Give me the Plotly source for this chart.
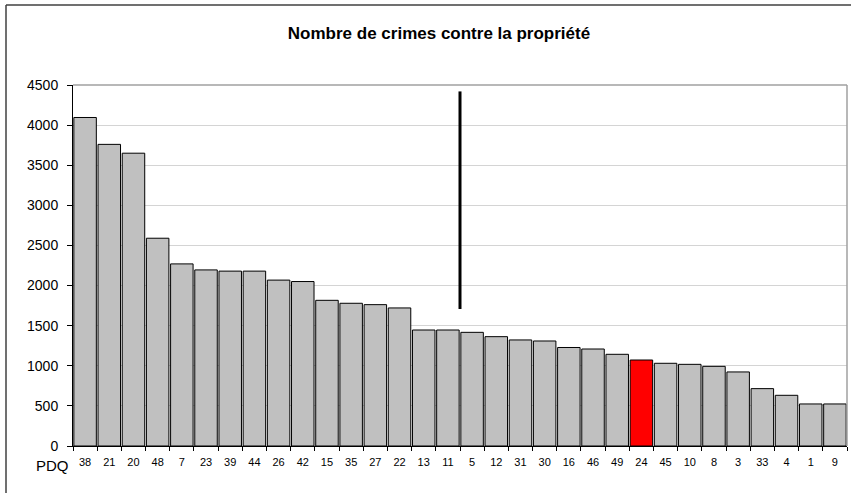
import plotly.graph_objects as go

# Data
pdq = ["38", "21", "20", "48", "7", "23", "39", "44", "26", "42", "15", "35", "27", "22", "13", "11",
       "5", "12", "31", "30", "16", "46", "49", "24", "45", "10", "8", "3", "33", "4", "1", "9"]
crimes = [4095, 3760, 3650, 2590, 2270, 2195, 2180, 2180, 2068, 2050, 1816, 1779, 1762, 1721, 1446, 1446,
          1417, 1363, 1322, 1309, 1228, 1209, 1143, 1072, 1031, 1018, 993, 923, 715, 632, 524, 524]
highlight = "24"
title_text = "Nombre de crimes contre la propriété"
x_label = "PDQ"
# vertical marker between PDQ 11 and 5
marker_after = "11"
marker_low, marker_high = 1708, 4420

colors = ["#FF0000" if p == highlight else "#C0C0C0" for p in pdq]

fig = go.Figure()
fig.add_trace(go.Bar(
    x=pdq, y=crimes,
    marker=dict(color=colors, line=dict(color="#000000", width=1)),
    hoverinfo="x+y",
))

W, H = 851, 493
L, R, T, B = 73, 4, 85, 47
pw, ph = W - L - R, H - T - B

def px_x(px):
    return (px - L) / pw

def px_y(py):
    return (H - B - py) / ph

mx = pdq.index(marker_after) + 0.5

shapes = [
    # plot area top/right border
    dict(type="line", xref="paper", yref="paper", x0=0, x1=1, y0=1, y1=1,
         line=dict(color="#A0A0A0", width=1.5)),
    dict(type="line", xref="paper", yref="paper", x0=1, x1=1, y0=0, y1=1,
         line=dict(color="#A0A0A0", width=1.5)),
    # vertical marker
    dict(type="line", xref="x", yref="y", x0=mx, x1=mx, y0=marker_low, y1=marker_high,
         line=dict(color="#000000", width=3)),
    # outer chart border (top and left)
    dict(type="line", xref="paper", yref="paper", x0=px_x(6), x1=px_x(852), y0=px_y(5), y1=px_y(5),
         line=dict(color="#404040", width=1.5)),
    dict(type="line", xref="paper", yref="paper", x0=px_x(6), x1=px_x(6), y0=px_y(5), y1=px_y(494),
         line=dict(color="#404040", width=1.5)),
]

fig.update_layout(
    width=W, height=H,
    margin=dict(l=L, r=R, t=T, b=B),
    paper_bgcolor="white", plot_bgcolor="white",
    font=dict(family="Arial, Liberation Sans, sans-serif", color="#000000"),
    title=dict(text="<b>" + title_text + "</b>", x=px_x(439), xref="paper", xanchor="center",
               y=1 - 33 / H, yref="container", yanchor="middle",
               font=dict(size=17, color="#000000")),
    bargap=0.07,
    showlegend=False,
    shapes=shapes,
    annotations=[dict(text=x_label, xref="paper", yref="paper", x=px_x(52), y=px_y(465),
                      showarrow=False, font=dict(size=15, color="#000000"),
                      xanchor="center", yanchor="middle")],
)
fig.update_xaxes(
    type="category", tickson="boundaries", ticks="outside", ticklen=4, tickcolor="#000000",
    showline=True, linecolor="#000000", linewidth=1, showgrid=False,
    tickfont=dict(size=11, color="#000000"), tickangle=0, ticklabelstandoff=6,
)
fig.update_yaxes(
    range=[0, 4500], dtick=500, ticks="outside", ticklen=5, tickcolor="#000000",
    showline=True, linecolor="#000000", linewidth=1,
    showgrid=True, gridcolor="#D4D4D4", gridwidth=1, zeroline=False,
    tickfont=dict(size=14, color="#000000"), ticklabelstandoff=6,
)

fig.write_html("out.html", config={"displayModeBar": False},
               post_script="document.body.style.margin='0';document.body.style.padding='0';"
                           "document.body.style.overflow='hidden';")
